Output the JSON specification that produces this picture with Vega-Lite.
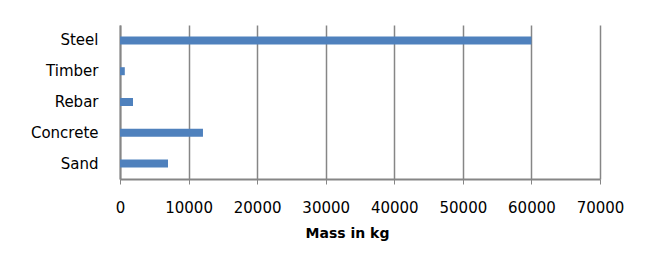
{
  "$schema": "https://vega.github.io/schema/vega-lite/v6.json",
  "autosize": {"type": "none"},
  "width": 480,
  "height": 154,
  "padding": {"left": 120, "top": 25, "right": 49, "bottom": 86},
  "background": "white",
  "data": {
    "values": [
      {"material": "Steel", "mass": 60000},
      {"material": "Timber", "mass": 700},
      {"material": "Rebar", "mass": 1900},
      {"material": "Concrete", "mass": 12100},
      {"material": "Sand", "mass": 7000}
    ]
  },
  "mark": {"type": "bar", "color": "#4F81BD", "size": 8},
  "encoding": {
    "y": {
      "field": "material",
      "type": "nominal",
      "sort": null,
      "axis": {
        "title": null,
        "ticks": false,
        "grid": false,
        "domainColor": "#868686",
        "domainWidth": 2,
        "labelFont": "DejaVu Sans",
        "labelFontSize": 15,
        "labelColor": "#000000",
        "labelPadding": 22
      }
    },
    "x": {
      "field": "mass",
      "type": "quantitative",
      "scale": {"domain": [0, 70000], "nice": false},
      "axis": {
        "title": "Mass in kg",
        "values": [0, 10000, 20000, 30000, 40000, 50000, 60000, 70000],
        "format": "d",
        "grid": true,
        "gridColor": "#868686",
        "gridWidth": 1.5,
        "domainColor": "#868686",
        "domainWidth": 2,
        "tickColor": "#868686",
        "tickSize": 5,
        "tickWidth": 1,
        "labelFont": "DejaVu Sans",
        "labelFontSize": 15,
        "labelColor": "#000000",
        "labelPadding": 16,
        "labelFlush": false,
        "titleFont": "DejaVu Sans",
        "titleFontSize": 14,
        "titleFontWeight": "bold",
        "titleColor": "#000000",
        "titlePadding": 11,
        "titleX": 227
      }
    }
  },
  "config": {"view": {"stroke": null}}
}
